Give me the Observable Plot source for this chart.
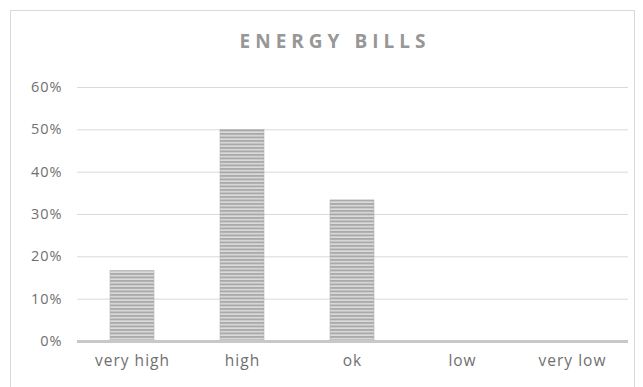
<!DOCTYPE html>
<html>
<head>
<meta charset="utf-8">
<script src="https://cdn.jsdelivr.net/npm/d3@7"></script>
<script src="https://cdn.jsdelivr.net/npm/@observablehq/plot@0.6"></script>
<style>
  html, body { margin: 0; padding: 0; background: #fff; }
  #wrap { position: relative; width: 643px; height: 387px; overflow: hidden; font-family: "Open Sans", sans-serif; }
  #frame { position: absolute; left: 10px; top: 10px; width: 625px; height: 420px; border: 1px solid #d9d9d9; box-sizing: border-box; }
  #title { position: absolute; left: 0; width: 670px; top: 28px; text-align: center; font-size: 19px; font-weight: 700; letter-spacing: 5px; color: #979797; }
  #chart { position: absolute; left: 0; top: 0; }
</style>
</head>
<body>
<div id="wrap">
  <div id="frame"></div>
  <div id="chart"></div>
  <div id="title">ENERGY BILLS</div>
</div>
<script>
// Share of respondents rating their energy bills
const categories = ["very high", "high", "ok", "low", "very low"];
const shares = [0.1667, 0.5, 0.3333, 0, 0];
const yTicks = [0, 0.1, 0.2, 0.3, 0.4, 0.5, 0.6];

const data = categories.map((c, i) => ({category: c, share: shares[i]}));

const chart = Plot.plot({
  width: 643,
  height: 387,
  marginLeft: 77,
  marginRight: 15,
  marginTop: 87,
  marginBottom: 46,
  style: {fontFamily: "Open Sans, sans-serif", fontSize: "15px", color: "#6e6e6e", background: "transparent"},
  x: {domain: categories, paddingInner: 0.6, paddingOuter: 0.3, label: null},
  y: {domain: [0, 0.6], label: null},
  marks: [
    Plot.gridY(yTicks, {stroke: "#d9d9d9", strokeOpacity: 1}),
    Plot.axisY(yTicks, {tickSize: 0, tickPadding: 15, tickFormat: d3.format(".0%"), fill: "#707070", fontSize: 14.5}),
    Plot.axisX({tickSize: 0, tickPadding: 13, fill: "#707070", fontSize: 15.5}),
    Plot.barY(data, {x: "category", y: "share", fill: "url(#stripes)", stroke: "#b4b4b4", strokeWidth: 0.6}),
    Plot.ruleY([0], {stroke: "#c8c8c8", strokeWidth: 3})
  ]
});

// horizontal stripe fill for the bars
const defs = d3.select(chart).insert("defs", ":first-child");
const pat = defs.append("pattern")
  .attr("id", "stripes")
  .attr("patternUnits", "userSpaceOnUse")
  .attr("width", 8)
  .attr("height", 3.5);
pat.append("rect").attr("width", 8).attr("height", 3.5).attr("fill", "#dcdcdc");
pat.append("rect").attr("width", 8).attr("height", 1.9).attr("fill", "#a9a9a9");

d3.select(chart).selectAll("text").style("letter-spacing", "1px");

document.getElementById("chart").append(chart);
</script>
</body>
</html>
